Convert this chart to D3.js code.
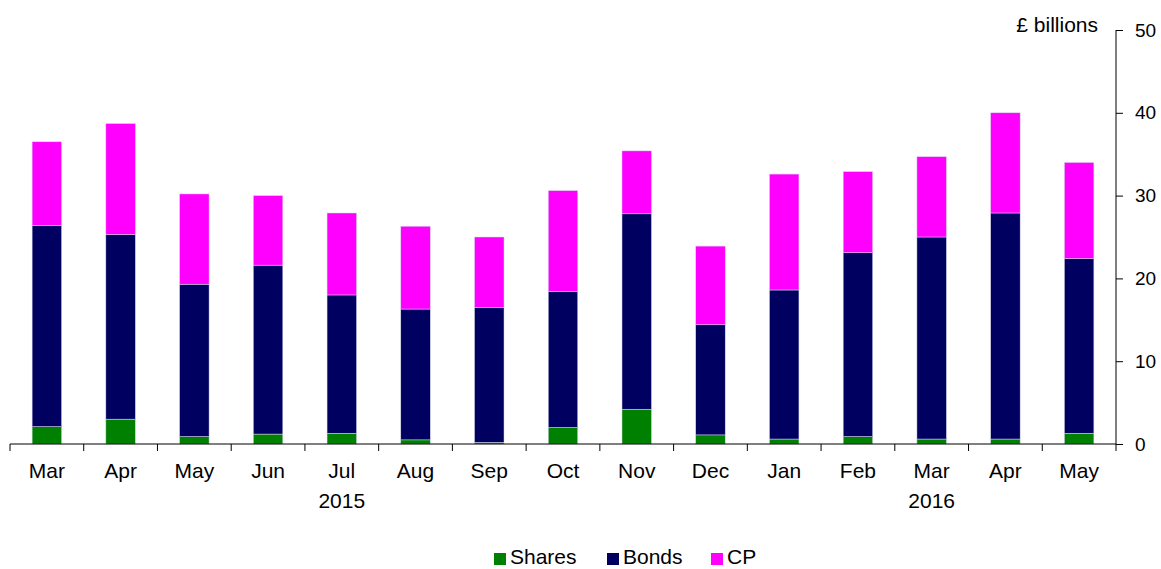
<!DOCTYPE html>
<html>
<head>
<meta charset="utf-8">
<script src="https://cdn.jsdelivr.net/npm/d3@7"></script>
<style>
  body { margin: 0; background: #fff; }
  svg { display: block; font-family: "Liberation Sans", Arial, sans-serif; }
  .axis path, .axis line { stroke: #000; }
</style>
</head>
<body>
<svg id="chart"></svg>
<script>
// months shown on the axis (Mar 2015 .. May 2016)
const months = ["Mar","Apr","May","Jun","Jul","Aug","Sep","Oct","Nov","Dec","Jan","Feb","Mar","Apr","May"];
const yearLabels = [{ year: "2015", at: 4 }, { year: "2016", at: 12 }];

// series values, £ billions
const shares = [2.1, 3.0, 0.9, 1.2, 1.3, 0.5, 0.2, 2.0, 4.2, 1.1, 0.6, 0.9, 0.6, 0.6, 1.3];
const bonds  = [24.3, 22.3, 18.4, 20.4, 16.7, 15.8, 16.3, 16.4, 23.6, 13.3, 18.0, 22.2, 24.4, 27.3, 21.1];
const cp     = [10.1, 13.4, 10.9, 8.4, 9.9, 10.0, 8.5, 12.2, 7.6, 9.5, 14.0, 9.8, 9.7, 12.1, 11.6];

const seriesNames = ["Shares", "Bonds", "CP"];
const colors = { Shares: "#008000", Bonds: "#000060", CP: "#ff00ff" };

const W = 1161, H = 569;
const plotLeft = 10, plotRight = 1116, plotTop = 30, plotBottom = 444;

const svg = d3.select("#chart").attr("width", W).attr("height", H);

const rows = months.map((m, i) => ({ i, Shares: shares[i], Bonds: bonds[i], CP: cp[i] }));
const stacked = d3.stack().keys(seriesNames)(rows);

const x = d3.scaleBand()
    .domain(d3.range(months.length))
    .range([plotLeft, plotRight])
    .paddingInner(0.6)
    .paddingOuter(0.3);

const y = d3.scaleLinear().domain([0, 50]).range([plotBottom, plotTop]);

// bars
svg.append("g").selectAll("g")
  .data(stacked)
  .join("g")
    .attr("fill", d => colors[d.key])
  .selectAll("rect")
  .data(d => d)
  .join("rect")
    .attr("x", d => x(d.data.i))
    .attr("width", x.bandwidth())
    .attr("y", d => y(d[1]))
    .attr("height", d => y(d[0]) - y(d[1]))
    .attr("stroke", "#d8d8ee")
    .attr("stroke-width", 0.5);

// x axis: line, ticks between categories, labels
const step = x.step();
const bounds = d3.range(months.length + 1).map(i => plotLeft + i * step);

const xg = svg.append("g").attr("class", "axis");
xg.append("line")
  .attr("x1", plotLeft).attr("x2", plotRight)
  .attr("y1", plotBottom).attr("y2", plotBottom)
  .attr("stroke", "#000");
xg.selectAll(".tick")
  .data(bounds)
  .join("line")
    .attr("x1", d => d).attr("x2", d => d)
    .attr("y1", plotBottom).attr("y2", plotBottom + 7)
    .attr("stroke", "#000");
xg.selectAll(".mlabel")
  .data(months)
  .join("text")
    .attr("x", (d, i) => x(i) + x.bandwidth() / 2)
    .attr("y", 478)
    .attr("text-anchor", "middle")
    .attr("font-size", 21)
    .text(d => d);
xg.selectAll(".ylabel")
  .data(yearLabels)
  .join("text")
    .attr("x", d => x(d.at) + x.bandwidth() / 2)
    .attr("y", 508)
    .attr("text-anchor", "middle")
    .attr("font-size", 21)
    .text(d => d.year);

// y axis on the right
const yAxis = d3.axisRight(y).ticks(5).tickSize(7).tickPadding(12);
svg.append("g")
    .attr("class", "axis")
    .attr("transform", `translate(${plotRight},0)`)
    .call(yAxis)
    .call(g => g.select(".domain").attr("d", `M0,${plotTop}V${plotBottom}`))
    .call(g => g.selectAll("text").attr("font-size", 19).attr("font-family", "Liberation Sans, Arial, sans-serif"));

svg.append("text")
  .attr("x", 1098)
  .attr("y", 32)
  .attr("text-anchor", "end")
  .attr("font-size", 21)
  .text("£ billions");

// legend
const legendX = [494, 607, 711];
const legend = svg.append("g");
seriesNames.forEach((name, i) => {
  legend.append("rect")
    .attr("x", legendX[i]).attr("y", 553)
    .attr("width", 12).attr("height", 12)
    .attr("fill", colors[name]);
  legend.append("text")
    .attr("x", legendX[i] + 16).attr("y", 564)
    .attr("font-size", 21)
    .text(name);
});
</script>
</body>
</html>
